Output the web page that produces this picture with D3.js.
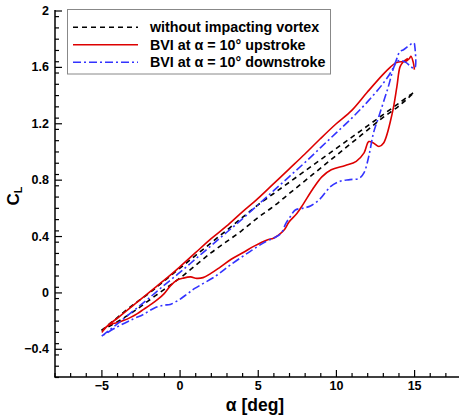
<!DOCTYPE html>
<html>
<head>
<meta charset="utf-8">
<script src="https://cdn.jsdelivr.net/npm/d3@7"></script>
<style>
  body { margin: 0; background: #fff; }
  text { font-family: "Liberation Sans", Arial, sans-serif; font-weight: bold; fill: #000; }
</style>
</head>
<body>
<div class="grafico"></div>
<script>
// series: alpha [deg] and CL, each one drawn as a single path (hysteresis loop)
var blackAlpha = [-5, -4, -3, -2, -1, 0, 1, 2, 3, 4, 5, 6, 7, 8, 9, 10, 11, 12, 13, 14, 15,
  14, 13, 12, 11, 10, 9, 8, 7, 6, 5, 4, 3, 2, 1, 0, -1, -2, -3, -4, -5];
var blackCL = [-0.27, -0.18, -0.09, -0.01, 0.08, 0.17, 0.26, 0.35, 0.44, 0.53, 0.62, 0.70, 0.78, 0.86, 0.94, 1.02, 1.10, 1.18, 1.26, 1.34, 1.42,
  1.32, 1.24, 1.15, 1.06, 0.97, 0.88, 0.79, 0.70, 0.61, 0.53, 0.44, 0.36, 0.28, 0.19, 0.10, 0.02, -0.06, -0.14, -0.21, -0.27];

var redAlpha = [15.02, 14.95, 14.8, 14.7, 14.55, 14.4, 14.0, 13.8, 13.5, 13, 12, 11, 10, 9, 8, 7, 6, 5, 4, 3, 2, 1, 0, -1, -2, -3, -4, -4.6, -4.95,
  -4.75, -4.4, -4.0, -3.6, -3.1, -2.7, -2.3, -1.9, -1.4, -1.0, -0.6, -0.2, 0.2, 0.7, 1.1, 1.5, 2.0, 2.6, 3.3, 4.1, 4.8, 5.6, 6.0, 6.3, 6.7, 7.0,
  7.5, 7.9, 8.5, 9.1, 9.7, 10.6, 11.3, 11.8, 12.1, 12.4, 12.75, 13.05, 13.6, 13.9, 14.1, 14.3, 14.6];
var redCL = [1.58, 1.63, 1.675, 1.66, 1.645, 1.638, 1.635, 1.627, 1.60, 1.545, 1.42, 1.29, 1.195, 1.09, 0.98, 0.875, 0.77, 0.665, 0.57, 0.47, 0.38, 0.28, 0.18, 0.085, -0.005, -0.095, -0.185, -0.235, -0.28,
  -0.25, -0.225, -0.215, -0.20, -0.175, -0.15, -0.12, -0.09, -0.05, -0.01, 0.045, 0.085, 0.10, 0.11, 0.10, 0.105, 0.135, 0.18, 0.235, 0.285, 0.33, 0.372, 0.385, 0.405, 0.445, 0.50,
  0.56, 0.625, 0.73, 0.82, 0.87, 0.90, 0.93, 0.99, 1.07, 1.06, 1.035, 1.06, 1.27, 1.46, 1.60, 1.635, 1.66];

var blueAlpha = [-4.98, -4, -3, -2, -1, 0, 1, 2, 3, 4, 5, 6, 7, 8, 9, 10, 11, 12, 13, 13.5, 13.8,
  14.1, 14.3, 14.98, 15.05, 15.04, 14.8, 14.5, 14.1, 13.85,
  13.3, 12.75, 12.4, 12.1, 11.8, 11.5, 10.9, 10.3, 9.65, 9.0, 8.4, 8.0, 7.4, 7.1, 6.8, 6.5, 6.1, 5.5, 4.5, 3.25, 2.3, 1.0, 0.5, 0, -0.6, -1.0, -1.6, -2.3, -3.0, -4.0, -4.98];
var blueCL = [-0.31, -0.225, -0.135, -0.045, 0.05, 0.14, 0.235, 0.33, 0.425, 0.52, 0.62, 0.72, 0.82, 0.92, 1.025, 1.13, 1.235, 1.35, 1.48, 1.56, 1.63,
  1.71, 1.72, 1.77, 1.74, 1.59, 1.60, 1.63, 1.645, 1.63,
  1.44, 1.25, 1.13, 0.965, 0.85, 0.81, 0.80, 0.79, 0.75, 0.665, 0.615, 0.60, 0.585, 0.54, 0.49, 0.42, 0.39, 0.36, 0.29, 0.195, 0.115, 0.03, -0.01, -0.05, -0.085, -0.09, -0.11, -0.155, -0.19, -0.245, -0.31];

var xMajor = [-5, 0, 5, 10, 15];
var yMajor = [-0.4, 0, 0.4, 0.8, 1.2, 1.6, 2];
var leyendas = ["without impacting vortex", "BVI at \u03b1 = 10\u00b0 upstroke", "BVI at \u03b1 = 10\u00b0 downstroke"];

var ancho = 459;
var alto = 419;

var svg = d3.select('.grafico')
  .append('svg')
  .attr('width', ancho)
  .attr('height', alto);

var xScale = d3.scaleLinear().domain([-8, 18]).range([54.5, 461]);
var yScale = d3.scaleLinear().domain([-0.6, 2]).range([377, 10.5]);

var xMinor = d3.range(-8, 19, 1).filter(function (d) { return xMajor.indexOf(d) < 0; });
var yMinor = d3.range(0, 33).map(function (i) { return +(-0.6 + i * 0.08).toFixed(2); })
  .filter(function (d) { return d >= -0.6 && d <= 2 && yMajor.indexOf(d) < 0; });

// minor ticks (inside)
svg.append('g')
  .attr('transform', 'translate(0,377)')
  .call(d3.axisBottom(xScale).tickValues(xMinor).tickSize(-4).tickFormat(''))
  .call(function (g) { g.select('.domain').remove(); });
svg.append('g')
  .attr('transform', 'translate(55,0)')
  .call(d3.axisLeft(yScale).tickValues(yMinor).tickSize(-4).tickFormat(''))
  .call(function (g) { g.select('.domain').remove(); });

// major ticks + labels
var xAxis = svg.append('g')
  .attr('transform', 'translate(0,377)')
  .call(d3.axisBottom(xScale).tickValues(xMajor).tickSize(-7).tickPadding(4).tickFormat(d3.format('d')));
var yAxis = svg.append('g')
  .attr('transform', 'translate(55,0)')
  .call(d3.axisLeft(yScale).tickValues(yMajor).tickSize(-7).tickPadding(6)
    .tickFormat(function (d) { return d === 0 ? '0' : d3.format('')(d); }));

[xAxis, yAxis].forEach(function (g) {
  g.select('.domain').remove();
  g.selectAll('text').style('font-size', '12.5px').style('font-family', '"Liberation Sans", Arial, sans-serif').style('font-weight', 'bold');
});
svg.selectAll('.tick line').attr('stroke', '#000').attr('stroke-width', 1.2);

// axis lines
svg.append('line').attr('x1', 55).attr('x2', 55).attr('y1', 10).attr('y2', 377.5)
  .attr('stroke', '#000').attr('stroke-width', 1.5);
svg.append('line').attr('x1', 54.5).attr('x2', 459).attr('y1', 377).attr('y2', 377)
  .attr('stroke', '#000').attr('stroke-width', 1.5);

// axis titles
svg.append('text')
  .attr('x', 255).attr('y', 411)
  .attr('text-anchor', 'middle')
  .style('font-size', '17.5px')
  .text('\u03b1 [deg]');

var tituloY = svg.append('text')
  .attr('transform', 'translate(19,196) rotate(-90)')
  .attr('text-anchor', 'middle')
  .style('font-size', '17px');
tituloY.append('tspan').text('C');
tituloY.append('tspan').attr('dy', 3).style('font-size', '11px').text('L');

// curves
var linea = d3.line()
  .x(function (d) { return xScale(d[0]); })
  .y(function (d) { return yScale(d[1]); })
  .curve(d3.curveCatmullRom.alpha(0.5));

var series = [
  { a: blackAlpha, c: blackCL, color: '#000', dash: '5,4' },
  { a: redAlpha, c: redCL, color: '#dd0000', dash: null },
  { a: blueAlpha, c: blueCL, color: '#3333ff', dash: '8,3,2,3' }
];

series.forEach(function (s) {
  var puntos = s.a.map(function (d, i) { return [d, s.c[i]]; });
  svg.append('path')
    .datum(puntos)
    .attr('d', linea)
    .attr('fill', 'none')
    .attr('stroke', s.color)
    .attr('stroke-width', 1.6)
    .attr('stroke-dasharray', s.dash);
});

// legend
var leyenda = svg.append('g');
leyenda.append('rect')
  .attr('x', 67.5).attr('y', 9.5).attr('width', 263).attr('height', 64.5)
  .attr('fill', '#fff').attr('stroke', '#888').attr('stroke-width', 1);

leyendas.forEach(function (txt, i) {
  var y = 27.3 + i * 17.5;
  leyenda.append('line')
    .attr('x1', 73).attr('x2', 138).attr('y1', y).attr('y2', y)
    .attr('stroke', series[i].color)
    .attr('stroke-width', 1.6)
    .attr('stroke-dasharray', series[i].dash);
  leyenda.append('text')
    .attr('x', 150).attr('y', y + 5)
    .style('font-size', '14.3px')
    .text(txt);
});
</script>
</body>
</html>
